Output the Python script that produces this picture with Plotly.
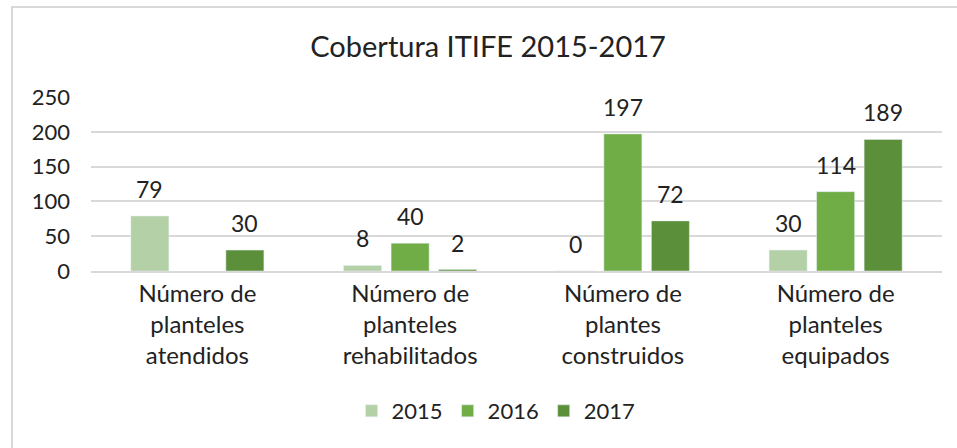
import plotly.graph_objects as go

categories = [
    "Número de<br>planteles<br>atendidos",
    "Número de<br>planteles<br>rehabilitados",
    "Número de<br>plantes<br>construidos",
    "Número de<br>planteles<br>equipados",
]
years = ["2015", "2016", "2017"]
values_2015 = [79, 8, 0, 30]
values_2016 = [None, 40, 197, 114]
values_2017 = [30, 2, 72, 189]
y_ticks = [0, 50, 100, 150, 200, 250]

colors = ["#B4D0A7", "#70AD47", "#5B8F3A"]
font_family = "Lato, 'Open Sans', sans-serif"

fig = go.Figure()
series = [values_2015, values_2016, values_2017]
for year, vals, col in zip(years, series, colors):
    fig.add_trace(go.Bar(name=year, x=categories, y=vals, marker_color=col))

# data labels, placed a little higher above the bars than plotly's own outside text
bar_pitch = 47.5
for i, vals in enumerate(series):
    for cat, v in zip(categories, vals):
        if v is None:
            continue
        fig.add_annotation(x=cat, y=v, text=str(v), showarrow=False,
                           xshift=(i - 1) * bar_pitch, yshift=27, yanchor="middle",
                           font=dict(size=23, color="#222222"))

# light gray frame around the chart, like the spreadsheet chart border
fig.add_shape(type="rect", xref="paper", yref="paper",
              x0=(12 - 91) / 851, x1=1.2, y0=-1.2, y1=(271 - 7) / 174,
              line=dict(color="#D9D9D9", width=2), fillcolor="rgba(0,0,0,0)", layer="below")

fig.update_layout(
    width=957, height=448,
    margin=dict(l=91, r=15, t=97, b=177),
    paper_bgcolor="white", plot_bgcolor="white",
    font=dict(family=font_family, color="#222222"),
    title=dict(text="Cobertura ITIFE 2015-2017", x=0.51, xanchor="center",
               y=1 - 47 / 448, yanchor="middle", font=dict(size=29)),
    barmode="group",
    bargap=0.33,
    bargroupgap=0.2,
    showlegend=True,
    legend=dict(orientation="h", x=0.476, xanchor="center", y=-0.805, yanchor="middle",
                font=dict(size=22), traceorder="normal", itemwidth=30),
    xaxis=dict(showline=True, linecolor="#D9D9D9", linewidth=2, ticks="",
               tickfont=dict(size=24), showgrid=False),
    yaxis=dict(range=[0, 250], tickvals=y_ticks, showgrid=True, gridcolor="#D9D9D9",
               gridwidth=2, zeroline=False, showline=False, tickfont=dict(size=22),
               ticklabelstandoff=20),
)

fig.write_html("out.html", config={"displayModeBar": False},
               post_script="document.body.style.margin='0';")
